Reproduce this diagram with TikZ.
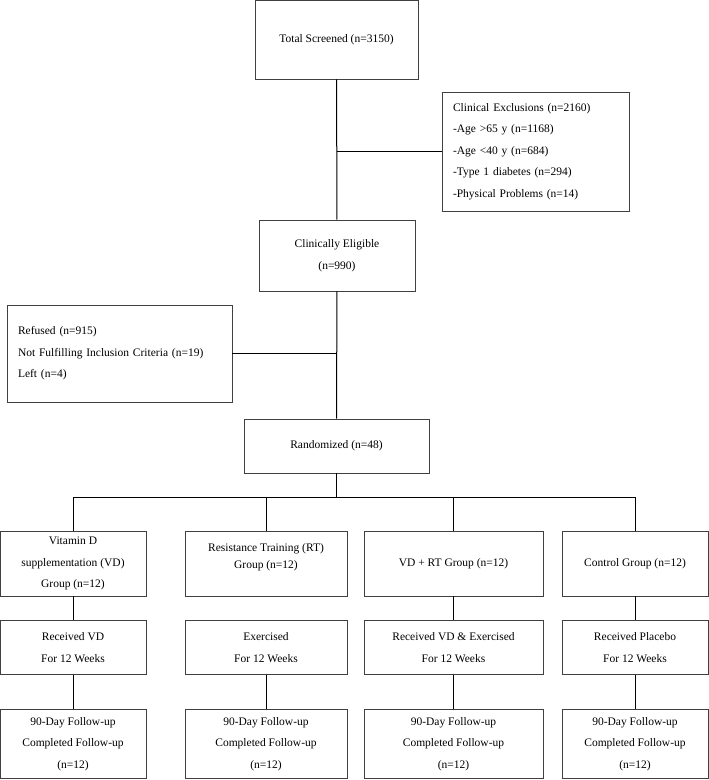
\documentclass[tikz,border=0pt]{standalone}
\usepackage{fontspec}
\setmainfont{Liberation Serif}
\usetikzlibrary{positioning}

\begin{document}
\begin{tikzpicture}[x=1pt, y=-1pt,
    box/.style={draw=black!75, line width=0.7pt, align=center, inner sep=2pt,
        font=\fontsize{11.5}{21.5}\selectfont},
    listbox/.style={box, align=left, inner xsep=11pt},
    link/.style={draw=black, line width=1pt}]

    \useasboundingbox (0,0) rectangle (709,780);

    % Add the screening boxes
    \node[box, minimum width=163pt, minimum height=79pt] (scr) at (336.5,39.5)
        {Total Screened (n=3150)};
    \node[listbox, text width=165pt, minimum height=119pt] (excl) at (535.5,151.5)
        {Clinical Exclusions (n=2160)\\-Age >65 y (n=1168)\\-Age <40 y (n=684)\\
         -Type 1 diabetes (n=294)\\-Physical Problems (n=14)};
    \node[box, minimum width=156pt, minimum height=71pt] (elig) at (337,255.5)
        {Clinically Eligible\\(n=990)};
    \node[listbox, text width=203pt, minimum height=97pt] (refu) at (119.5,353.5)
        {Refused (n=915)\\Not Fulfilling Inclusion Criteria (n=19)\\Left (n=4)};
    \node[box, minimum width=185pt, minimum height=54pt] (rand) at (336.5,446)
        {Randomized (n=48)};

    % Add the group boxes
    \node[box, minimum width=146pt, minimum height=65pt] (g1) at (73,563.5)
        {Vitamin D\\supplementation (VD)\\Group (n=12)};
    \node[box, minimum width=162pt, minimum height=65pt] (g2) at (266,563.5)
        {Resistance Training (RT)\\[-4pt]Group (n=12)\\[-7pt]\mbox{}};
    \node[box, minimum width=179pt, minimum height=65pt] (g3) at (453.5,563.5)
        {VD + RT Group (n=12)};
    \node[box, minimum width=146pt, minimum height=65pt] (g4) at (635,563.5)
        {Control Group (n=12)};

    % Add the treatment boxes
    \node[box, below=24pt of g1, minimum width=146pt, minimum height=54pt] (r1)
        {Received VD\\For 12 Weeks};
    \node[box, below=24pt of g2, minimum width=162pt, minimum height=54pt] (r2)
        {Exercised\\For 12 Weeks};
    \node[box, below=24pt of g3, minimum width=179pt, minimum height=54pt] (r3)
        {Received VD \& Exercised\\For 12 Weeks};
    \node[box, below=24pt of g4, minimum width=146pt, minimum height=54pt] (r4)
        {Received Placebo\\For 12 Weeks};

    % Add the follow-up boxes
    \foreach \i/\w in {1/146, 2/162, 3/179, 4/146}
        \node[box, below=34pt of r\i, minimum width=\w pt, minimum height=69pt] (f\i)
            {90-Day Follow-up\\Completed Follow-up\\(n=12)};

    % Connect the boxes
    \draw[link] (scr) -- (elig);
    \draw[link] (scr |- excl.west) -- (excl.west);
    \draw[link] (refu.east) -- (elig |- refu.east);
    \draw[link] (elig) -- (rand);
    \coordinate (split) at (336.5,497);
    \draw[link] (rand) -- (split);
    \draw[link] (g1.north |- split) -- (g4.north |- split);
    \foreach \g in {g1, g2, g3, g4}
        \draw[link] (\g.north |- split) -- (\g.north);
    \foreach \i in {1, 3, 4}
        \draw[link] (g\i) -- (r\i);
    \foreach \i in {1, ..., 4}
        \draw[link] (r\i) -- (f\i);
\end{tikzpicture}
\end{document}
